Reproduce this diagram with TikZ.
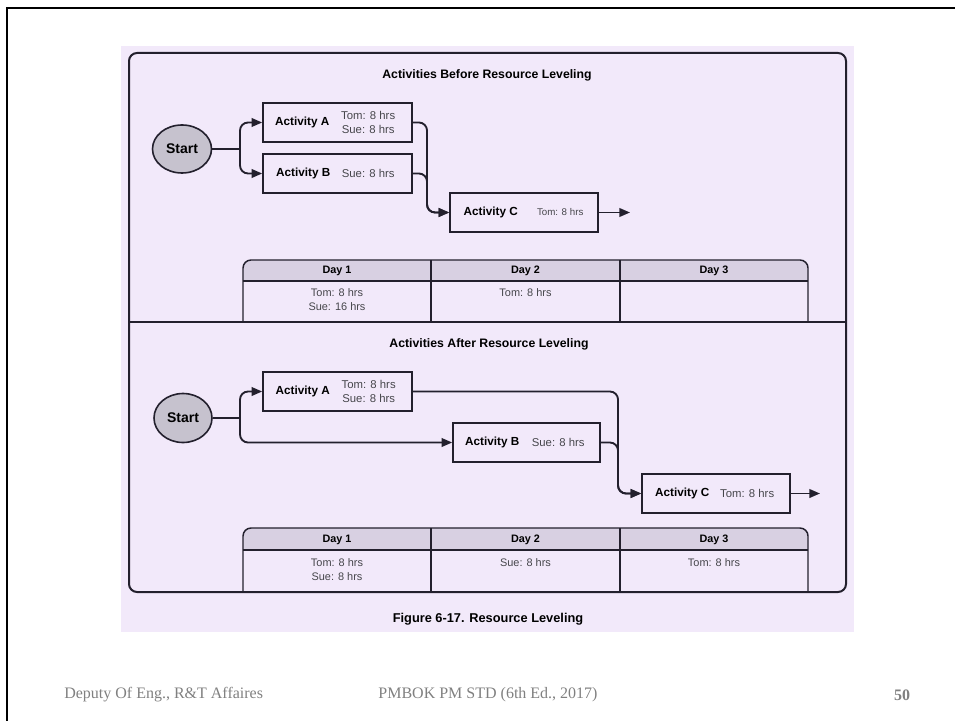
\documentclass[tikz,border=0pt]{standalone}
\usepackage{fontspec}
\setmainfont{Liberation Sans}
\newfontfamily\footfont{Liberation Serif}
\usetikzlibrary{arrows.meta,calc,shapes.geometric}
\definecolor{lav}{RGB}{242,233,250}
\definecolor{hdr}{RGB}{216,208,226}
\definecolor{startfill}{RGB}{198,194,206}
\definecolor{ink}{RGB}{35,32,45}
\definecolor{txtgray}{RGB}{70,70,75}
\definecolor{foot}{RGB}{128,128,128}
\begin{document}
\begin{tikzpicture}[x=0.75pt,y=-0.75pt,
  conn/.style={draw=ink,line width=1.4pt,rounded corners=6pt,-{Triangle[length=8pt,width=6.5pt]}},
  plainconn/.style={draw=ink,line width=1.4pt,rounded corners=6pt},
  actbox/.style={draw=ink,line width=1.2pt,minimum height=29.25pt,inner sep=0pt},
  startnode/.style={ellipse,draw=ink,line width=1.2pt,fill=startfill,inner sep=0pt,font=\bfseries\fontsize{10.5}{12}\selectfont},
  actlabel/.style={font=\bfseries\fontsize{8.8}{10}\selectfont,text=black,inner sep=0pt},
  res/.style={font=\fontsize{8.5}{10.1}\selectfont,text=txtgray,align=center,inner sep=0pt},
  ressmall/.style={font=\fontsize{7.3}{9}\selectfont,text=txtgray,align=center,inner sep=0pt},
  titletext/.style={font=\bfseries\fontsize{9.2}{11}\selectfont,text=black,inner sep=0pt},
  hdrtext/.style={font=\bfseries\fontsize{8.1}{10}\selectfont,text=black,inner sep=0pt},
  celltext/.style={font=\fontsize{8.2}{10.5}\selectfont,text=txtgray,align=center,inner sep=0pt},
  tbl/.style={draw=ink,line width=1.1pt},
  foottext/.style={font=\footfont\fontsize{12}{14}\selectfont,text=foot,inner sep=0pt}
]
\useasboundingbox (0,0) rectangle (955,720);
% slide frame
\draw[black,line width=1.6pt] (7,725) -- (7,8) -- (960,8);
% figure background
\fill[lav] (121,46) rectangle (854,632);
\draw[ink,line width=1.5pt,rounded corners=6pt] (129,53) rectangle (846,592);
\draw[ink,line width=1.5pt] (129,322) -- (846,322);

% ---------- top part ----------
\node[titletext] (title1) at (487,75) {Activities Before Resource Leveling};
\node[startnode,minimum width=44.25pt,minimum height=36pt] (start1) at (182,149) {Start};
\node[actbox,minimum width=111.75pt] (A1) at (337.5,122.5) {};
\node[actbox,minimum width=111.75pt] (B1) at (337.5,173.5) {};
\node[actbox,minimum width=111pt] (C1) at (524,212.5) {};
\node[actlabel] (A1l) at ($(A1.west)+(40,0)$) {Activity A};
\node[res] (A1r) at ($(A1.west)+(106,0)$) {Tom: 8 hrs\\Sue: 8 hrs};
\node[actlabel] (B1l) at ($(B1.west)+(41,0)$) {Activity B};
\node[res] (B1r) at ($(B1.west)+(106,0)$) {Sue: 8 hrs};
\node[actlabel] (C1l) at ($(C1.west)+(41.5,0)$) {Activity C};
\node[ressmall] (C1r) at ($(C1.west)+(111,0)$) {Tom: 8 hrs};
\coordinate (sp1) at (240,149);
\coordinate (jc1) at (427,212.5);
\coordinate (out1) at (630,212.5);
\draw[plainconn] (start1.east) -- (sp1);
\draw[conn] (sp1) |- (A1.west);
\draw[conn] (sp1) |- (B1.west);
\draw[conn] (A1.east) -| (jc1) -- (C1.west);
\draw[conn] (B1.east) -| (jc1) -- (C1.west);
\draw[conn] (C1.east) -- (out1);

% top table
\fill[hdr] (243,281) [rounded corners=6pt] -- (243,260) -- (808,260) [sharp corners] -- (808,281) -- cycle;
\draw[tbl,rounded corners=6pt] (243,322) -- (243,260) -- (808,260) -- (808,322);
\draw[tbl] (243,281) -- (808,281);
\draw[tbl] (431,260) -- (431,322);
\draw[tbl] (620,260) -- (620,322);
\node[hdrtext] (h11) at (337,271) {Day 1};
\node[hdrtext] (h12) at (525.5,271) {Day 2};
\node[hdrtext] (h13) at (714,271) {Day 3};
\node[celltext] (c11) at (337,300) {Tom: 8 hrs\\Sue: 16 hrs};
\node[celltext] (c12) at (525.5,293) {Tom: 8 hrs};

% ---------- bottom part ----------
\node[titletext] (title2) at (489,344) {Activities After Resource Leveling};
\node[startnode,minimum width=43.5pt,minimum height=36.75pt] (start2) at (183,418) {Start};
\node[actbox,minimum width=111.75pt] (A2) at (337.5,391.5) {};
\node[actbox,minimum width=110.25pt] (B2) at (526.5,442.5) {};
\node[actbox,minimum width=111pt] (C2) at (716,493.5) {};
\node[actlabel] (A2l) at ($(A2.west)+(40.5,0)$) {Activity A};
\node[res] (A2r) at ($(A2.west)+(106.5,0)$) {Tom: 8 hrs\\Sue: 8 hrs};
\node[actlabel] (B2l) at ($(B2.west)+(40,0)$) {Activity B};
\node[res] (B2r) at ($(B2.west)+(106,0)$) {Sue: 8 hrs};
\node[actlabel] (C2l) at ($(C2.west)+(41,0)$) {Activity C};
\node[res] (C2r) at ($(C2.west)+(106,0)$) {Tom: 8 hrs};
\coordinate (sp2) at (240,418);
\coordinate (jc2) at (618,493.5);
\coordinate (out2) at (820,493.5);
\draw[plainconn] (start2.east) -- (sp2);
\draw[conn] (sp2) |- (A2.west);
\draw[conn] (sp2) |- (B2.west);
\draw[conn] (A2.east) -| (jc2) -- (C2.west);
\draw[conn] (B2.east) -| (jc2) -- (C2.west);
\draw[conn] (C2.east) -- (out2);

% bottom table
\fill[hdr] (243,550) [rounded corners=6pt] -- (243,528) -- (808,528) [sharp corners] -- (808,550) -- cycle;
\draw[tbl,rounded corners=6pt] (243,592) -- (243,528) -- (808,528) -- (808,592);
\draw[tbl] (243,550) -- (808,550);
\draw[tbl] (431,528) -- (431,592);
\draw[tbl] (620,528) -- (620,592);
\node[hdrtext] (h21) at (337,539.5) {Day 1};
\node[hdrtext] (h22) at (525.5,539.5) {Day 2};
\node[hdrtext] (h23) at (714,539.5) {Day 3};
\node[celltext] (c21) at (337,569.5) {Tom: 8 hrs\\Sue: 8 hrs};
\node[celltext] (c22) at (525.5,563) {Sue: 8 hrs};
\node[celltext] (c23) at (714,563) {Tom: 8 hrs};

% caption
\node[font=\bfseries\fontsize{9.6}{11}\selectfont,inner sep=0pt] (cap) at (488,619) {Figure 6-17. Resource Leveling};

% footer
\node[foottext,anchor=west] (f1) at (64,695) {Deputy Of Eng., R\&T Affaires};
\node[foottext] (f2) at (488,695) {PMBOK PM STD (6th Ed., 2017)};
\node[foottext,font=\footfont\bfseries\fontsize{12}{14}\selectfont] (f3) at (902,695) {50};
\end{tikzpicture}
\end{document}
